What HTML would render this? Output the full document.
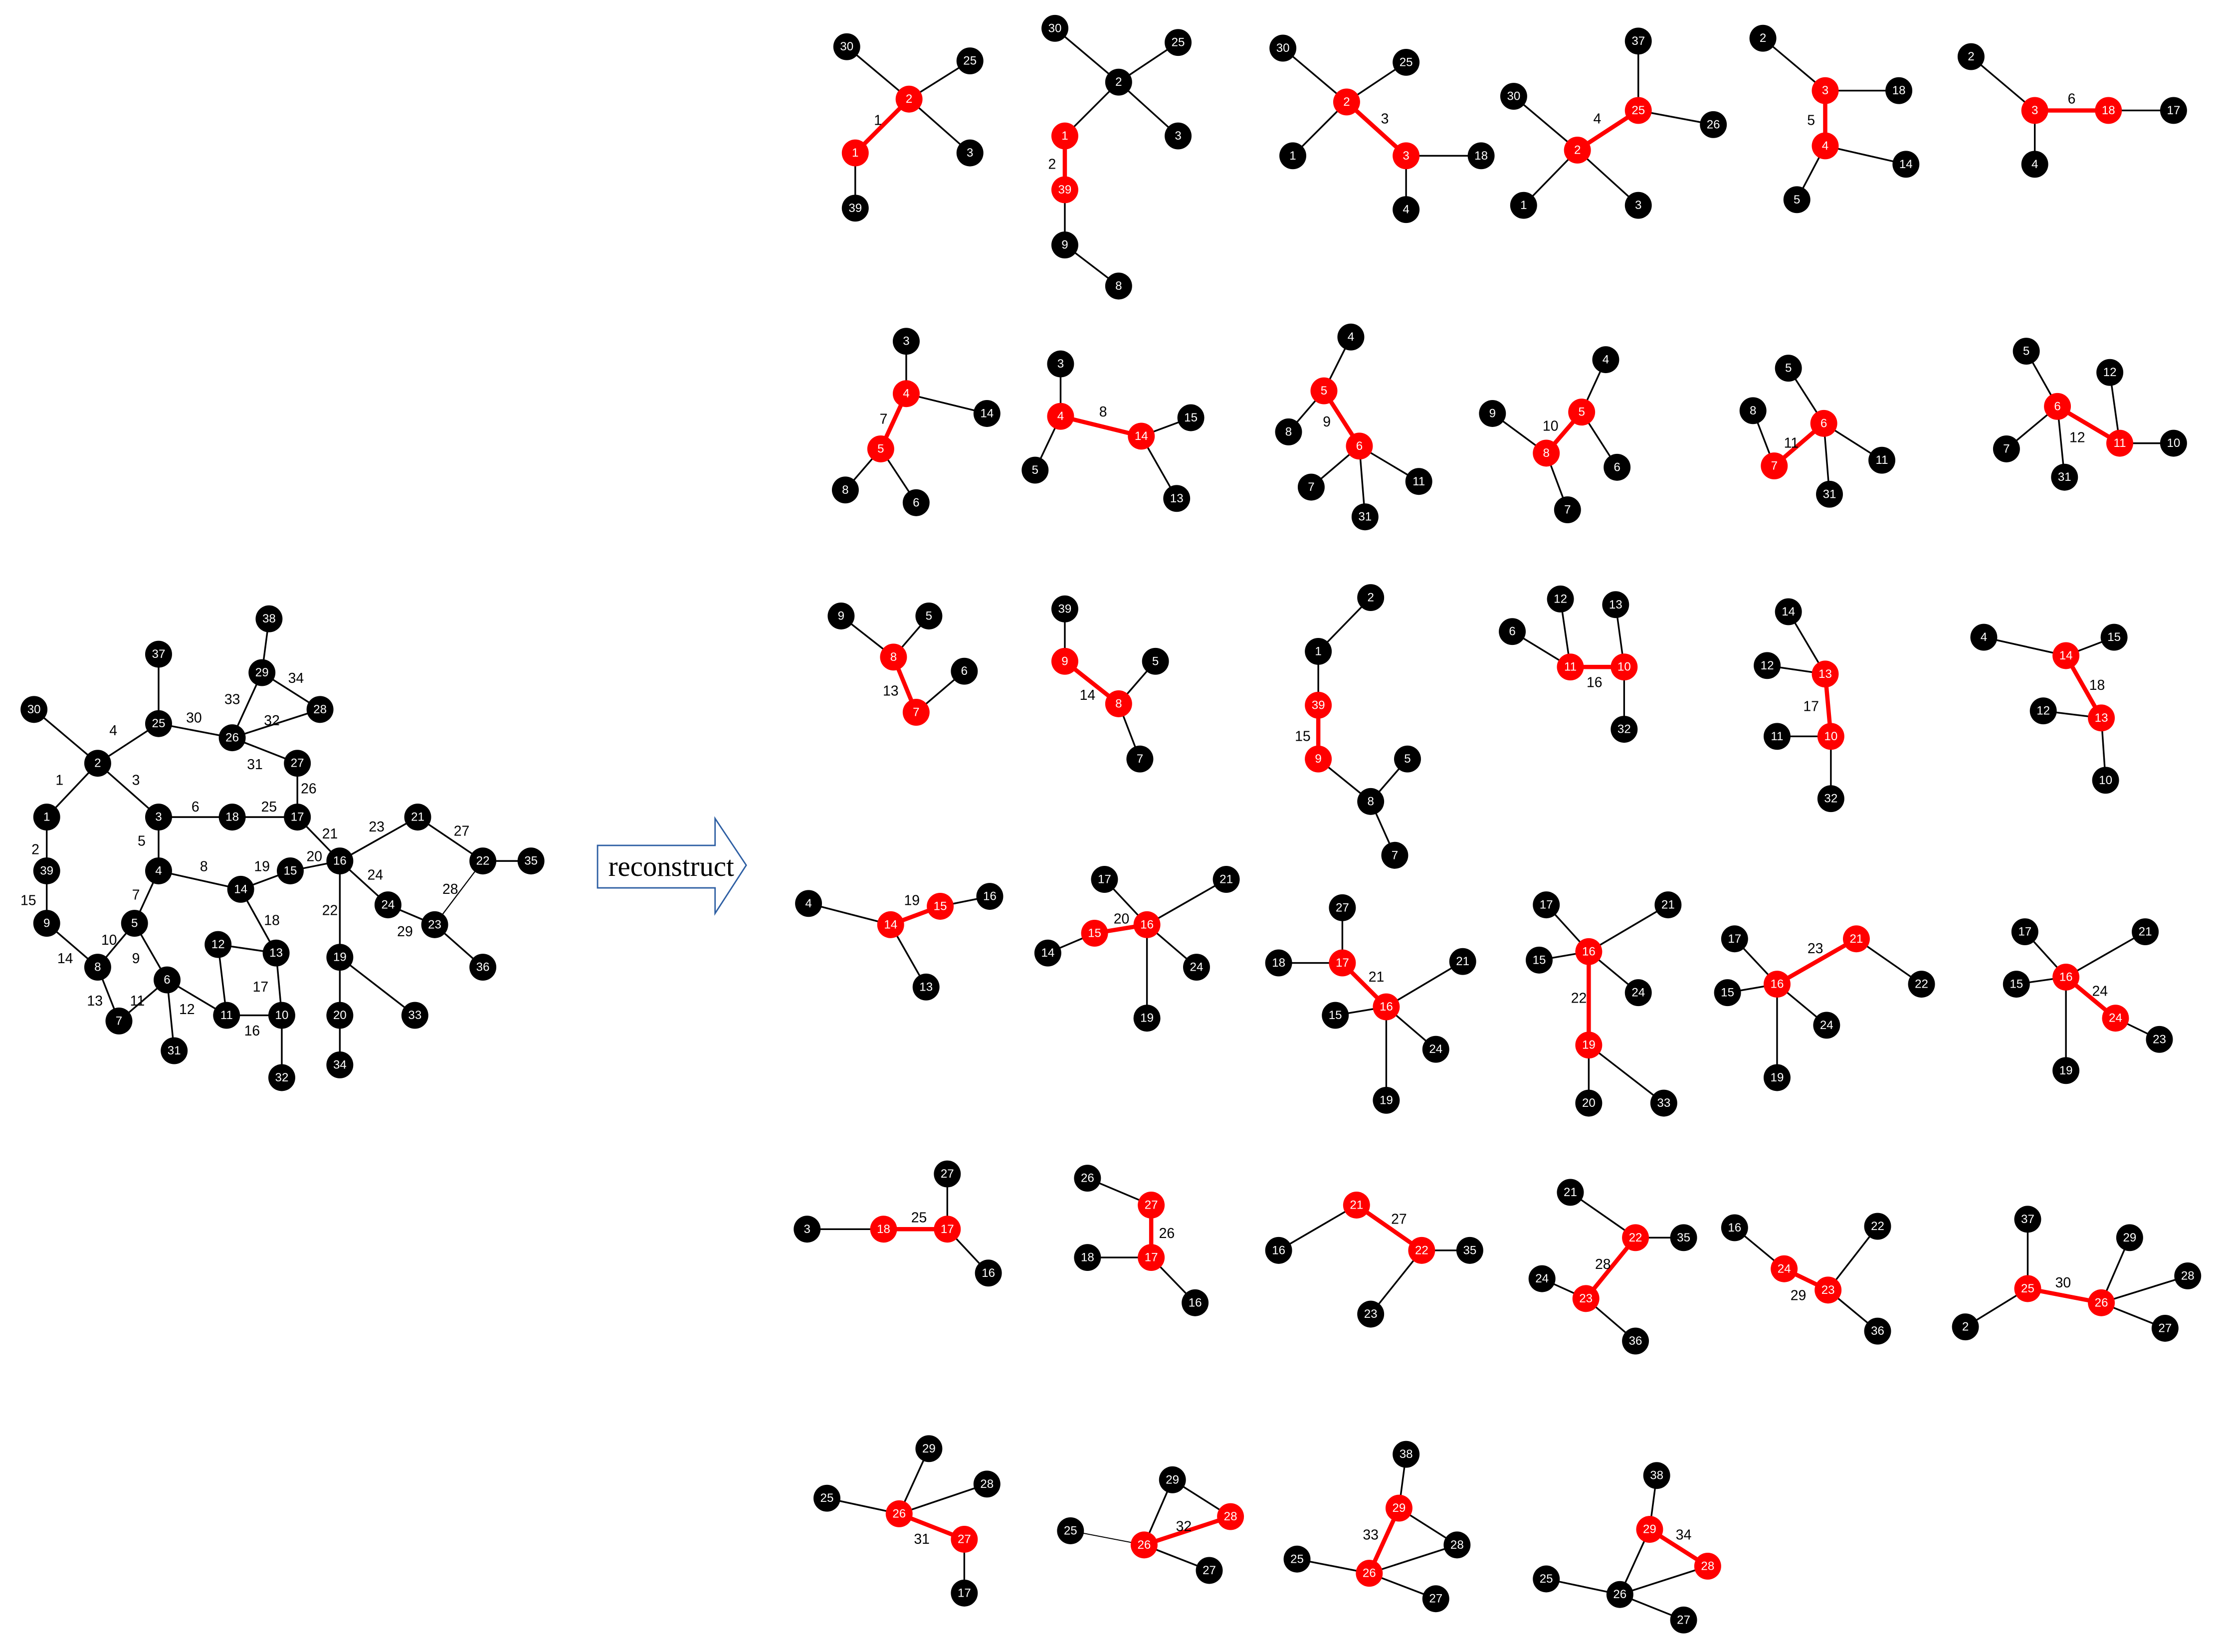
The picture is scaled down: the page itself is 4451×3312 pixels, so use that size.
<!DOCTYPE html>
<html><head><meta charset="utf-8"><style>
html,body{margin:0;padding:0;background:#fff;}
svg{display:block}
circle{r:9.5px;fill:#000}
circle.r{fill:#f00}
line{stroke:#000;stroke-width:1.2}
line.r{stroke:#f00;stroke-width:3}
text{font-family:"Liberation Sans",sans-serif;text-anchor:middle;dominant-baseline:central}
text.n{fill:#fff;font-size:8.5px}
text.e{fill:#000;font-size:10px}
</style></head><body>
<svg width="4451" height="3312" viewBox="0 0 1567.8 1166.6" xmlns="http://www.w3.org/2000/svg">
<!-- LEFT GRAPH -->
<g>
<line x1="24" y1="501" x2="69" y2="539"/><line x1="69" y1="539" x2="112" y2="511"/><line x1="112" y1="462" x2="112" y2="511"/>
<line x1="69" y1="539" x2="33" y2="577"/><line x1="69" y1="539" x2="112" y2="577"/><line x1="33" y1="577" x2="33" y2="652"/>
<line x1="33" y1="652" x2="69" y2="683"/><line x1="112" y1="577" x2="112" y2="615"/><line x1="112" y1="615" x2="95" y2="652"/>
<line x1="95" y1="652" x2="69" y2="683"/><line x1="95" y1="652" x2="118" y2="692"/><line x1="69" y1="683" x2="84" y2="721"/>
<line x1="84" y1="721" x2="118" y2="692"/><line x1="118" y1="692" x2="123" y2="742"/><line x1="118" y1="692" x2="160" y2="717"/>
<line x1="112" y1="577" x2="210" y2="577"/><line x1="210" y1="577" x2="210" y2="539"/><line x1="210" y1="539" x2="164" y2="521"/>
<line x1="112" y1="511" x2="164" y2="521"/><line x1="164" y1="521" x2="185" y2="475"/><line x1="185" y1="475" x2="190" y2="437"/>
<line x1="185" y1="475" x2="226" y2="501"/><line x1="164" y1="521" x2="226" y2="501"/><line x1="112" y1="615" x2="170" y2="628"/>
<line x1="170" y1="628" x2="205" y2="615"/><line x1="205" y1="615" x2="240" y2="608"/><line x1="210" y1="577" x2="240" y2="608"/>
<line x1="240" y1="608" x2="295" y2="577"/><line x1="295" y1="577" x2="341" y2="608"/><line x1="341" y1="608" x2="375" y2="608"/>
<line x1="240" y1="608" x2="274" y2="639"/><line x1="274" y1="639" x2="307" y2="653"/><line x1="341" y1="608" x2="307" y2="653" style="stroke-width:0.8"/>
<line x1="307" y1="653" x2="341" y2="683"/><line x1="240" y1="608" x2="240" y2="752"/><line x1="240" y1="676" x2="293" y2="717"/>
<line x1="170" y1="628" x2="195" y2="673"/><line x1="154" y1="667" x2="195" y2="673"/><line x1="154" y1="667" x2="160" y2="717"/>
<line x1="195" y1="673" x2="199" y2="717"/><line x1="160" y1="717" x2="199" y2="717"/><line x1="199" y1="717" x2="199" y2="761"/>
<circle cx="24" cy="501"/><text class="n" x="24" y="501">30</text>
<circle cx="69" cy="539"/><text class="n" x="69" y="539">2</text>
<circle cx="112" cy="462"/><text class="n" x="112" y="462">37</text>
<circle cx="112" cy="511"/><text class="n" x="112" y="511">25</text>
<circle cx="33" cy="577"/><text class="n" x="33" y="577">1</text>
<circle cx="112" cy="577"/><text class="n" x="112" y="577">3</text>
<circle cx="33" cy="615"/><text class="n" x="33" y="615">39</text>
<circle cx="33" cy="652"/><text class="n" x="33" y="652">9</text>
<circle cx="112" cy="615"/><text class="n" x="112" y="615">4</text>
<circle cx="95" cy="652"/><text class="n" x="95" y="652">5</text>
<circle cx="69" cy="683"/><text class="n" x="69" y="683">8</text>
<circle cx="84" cy="721"/><text class="n" x="84" y="721">7</text>
<circle cx="118" cy="692"/><text class="n" x="118" y="692">6</text>
<circle cx="123" cy="742"/><text class="n" x="123" y="742">31</text>
<circle cx="164" cy="577"/><text class="n" x="164" y="577">18</text>
<circle cx="210" cy="577"/><text class="n" x="210" y="577">17</text>
<circle cx="210" cy="539"/><text class="n" x="210" y="539">27</text>
<circle cx="164" cy="521"/><text class="n" x="164" y="521">26</text>
<circle cx="185" cy="475"/><text class="n" x="185" y="475">29</text>
<circle cx="190" cy="437"/><text class="n" x="190" y="437">38</text>
<circle cx="226" cy="501"/><text class="n" x="226" y="501">28</text>
<circle cx="170" cy="628"/><text class="n" x="170" y="628">14</text>
<circle cx="205" cy="615"/><text class="n" x="205" y="615">15</text>
<circle cx="240" cy="608"/><text class="n" x="240" y="608">16</text>
<circle cx="295" cy="577"/><text class="n" x="295" y="577">21</text>
<circle cx="341" cy="608"/><text class="n" x="341" y="608">22</text>
<circle cx="375" cy="608"/><text class="n" x="375" y="608">35</text>
<circle cx="274" cy="639"/><text class="n" x="274" y="639">24</text>
<circle cx="307" cy="653"/><text class="n" x="307" y="653">23</text>
<circle cx="341" cy="683"/><text class="n" x="341" y="683">36</text>
<circle cx="240" cy="676"/><text class="n" x="240" y="676">19</text>
<circle cx="240" cy="717"/><text class="n" x="240" y="717">20</text>
<circle cx="240" cy="752"/><text class="n" x="240" y="752">34</text>
<circle cx="293" cy="717"/><text class="n" x="293" y="717">33</text>
<circle cx="154" cy="667"/><text class="n" x="154" y="667">12</text>
<circle cx="195" cy="673"/><text class="n" x="195" y="673">13</text>
<circle cx="160" cy="717"/><text class="n" x="160" y="717">11</text>
<circle cx="199" cy="717"/><text class="n" x="199" y="717">10</text>
<circle cx="199" cy="761"/><text class="n" x="199" y="761">32</text>
<text class="e" x="42" y="551">1</text><text class="e" x="25" y="600">2</text><text class="e" x="96" y="551">3</text><text class="e" x="80" y="516">4</text>
<text class="e" x="100" y="594">5</text><text class="e" x="138" y="570">6</text><text class="e" x="96" y="632">7</text><text class="e" x="144" y="612">8</text>
<text class="e" x="96" y="677">9</text><text class="e" x="77" y="664">10</text><text class="e" x="97" y="707">11</text><text class="e" x="132" y="713">12</text>
<text class="e" x="67" y="707">13</text><text class="e" x="46" y="677">14</text><text class="e" x="20" y="636">15</text><text class="e" x="178" y="728">16</text>
<text class="e" x="184" y="697">17</text><text class="e" x="192" y="650">18</text><text class="e" x="185" y="612">19</text><text class="e" x="222" y="605">20</text>
<text class="e" x="233" y="589">21</text><text class="e" x="233" y="643">22</text><text class="e" x="266" y="584">23</text><text class="e" x="265" y="618">24</text>
<text class="e" x="190" y="570">25</text><text class="e" x="218" y="557">26</text><text class="e" x="326" y="587">27</text><text class="e" x="318" y="628">28</text>
<text class="e" x="286" y="658">29</text><text class="e" x="137" y="507">30</text><text class="e" x="180" y="540">31</text><text class="e" x="192" y="509">32</text>
<text class="e" x="164" y="494">33</text><text class="e" x="209" y="479">34</text>
</g>
<!-- ARROW -->
<path d="M422,597 L505,597 L505,578 L527,611 L505,645 L505,627 L422,627 Z" fill="#fff" stroke="#2e5fa3" stroke-width="1"/>
<text x="474" y="612" style="font-family:'Liberation Serif',serif;font-size:20px;fill:#000">reconstruct</text>

<!-- G1 -->
<line x1="598" y1="33" x2="642" y2="70"/><line x1="685" y1="43" x2="642" y2="70"/><line x1="642" y1="70" x2="685" y2="108"/><line x1="604" y1="108" x2="604" y2="147"/><line class="r" x1="642" y1="70" x2="604" y2="108"/>
<circle cx="598" cy="33"/><text class="n" x="598" y="33">30</text><circle cx="685" cy="43"/><text class="n" x="685" y="43">25</text><circle class="r" cx="642" cy="70"/><text class="n" x="642" y="70">2</text><circle class="r" cx="604" cy="108"/><text class="n" x="604" y="108">1</text><circle cx="685" cy="108"/><text class="n" x="685" y="108">3</text><circle cx="604" cy="147"/><text class="n" x="604" y="147">39</text><text class="e" x="620" y="85">1</text>
<!-- G2 -->
<line x1="745" y1="20" x2="790" y2="58"/><line x1="832" y1="30" x2="790" y2="58"/><line x1="790" y1="58" x2="832" y2="96"/><line x1="790" y1="58" x2="752" y2="96"/><line x1="752" y1="134" x2="752" y2="173"/><line x1="752" y1="173" x2="790" y2="202"/><line class="r" x1="752" y1="96" x2="752" y2="134"/>
<circle cx="745" cy="20"/><text class="n" x="745" y="20">30</text><circle cx="832" cy="30"/><text class="n" x="832" y="30">25</text><circle cx="790" cy="58"/><text class="n" x="790" y="58">2</text><circle class="r" cx="752" cy="96"/><text class="n" x="752" y="96">1</text><circle cx="832" cy="96"/><text class="n" x="832" y="96">3</text><circle class="r" cx="752" cy="134"/><text class="n" x="752" y="134">39</text><circle cx="752" cy="173"/><text class="n" x="752" y="173">9</text><circle cx="790" cy="202"/><text class="n" x="790" y="202">8</text><text class="e" x="743" y="116">2</text>
<!-- G3 -->
<line x1="906" y1="34" x2="951" y2="72"/><line x1="993" y1="44" x2="951" y2="72"/><line x1="951" y1="72" x2="913" y2="110"/><line x1="993" y1="110" x2="1046" y2="110"/><line x1="993" y1="110" x2="993" y2="148"/><line class="r" x1="951" y1="72" x2="993" y2="110"/>
<circle cx="906" cy="34"/><text class="n" x="906" y="34">30</text><circle cx="993" cy="44"/><text class="n" x="993" y="44">25</text><circle class="r" cx="951" cy="72"/><text class="n" x="951" y="72">2</text><circle cx="913" cy="110"/><text class="n" x="913" y="110">1</text><circle class="r" cx="993" cy="110"/><text class="n" x="993" y="110">3</text><circle cx="1046" cy="110"/><text class="n" x="1046" y="110">18</text><circle cx="993" cy="148"/><text class="n" x="993" y="148">4</text><text class="e" x="978" y="84">3</text>
<!-- G4 -->
<line x1="1157" y1="29" x2="1157" y2="78"/><line x1="1157" y1="78" x2="1210" y2="88"/><line x1="1069" y1="68" x2="1114" y2="106"/><line x1="1114" y1="106" x2="1076" y2="145"/><line x1="1114" y1="106" x2="1157" y2="145"/><line class="r" x1="1114" y1="106" x2="1157" y2="78"/>
<circle cx="1157" cy="29"/><text class="n" x="1157" y="29">37</text><circle cx="1069" cy="68"/><text class="n" x="1069" y="68">30</text><circle class="r" cx="1157" cy="78"/><text class="n" x="1157" y="78">25</text><circle cx="1210" cy="88"/><text class="n" x="1210" y="88">26</text><circle class="r" cx="1114" cy="106"/><text class="n" x="1114" y="106">2</text><circle cx="1076" cy="145"/><text class="n" x="1076" y="145">1</text><circle cx="1157" cy="145"/><text class="n" x="1157" y="145">3</text><text class="e" x="1128" y="84">4</text>
<!-- G5 -->
<line x1="1245" y1="27" x2="1289" y2="64"/><line x1="1289" y1="64" x2="1341" y2="64"/><line x1="1289" y1="103" x2="1346" y2="116"/><line x1="1289" y1="103" x2="1269" y2="141"/><line class="r" x1="1289" y1="64" x2="1289" y2="103"/>
<circle cx="1245" cy="27"/><text class="n" x="1245" y="27">2</text><circle class="r" cx="1289" cy="64"/><text class="n" x="1289" y="64">3</text><circle cx="1341" cy="64"/><text class="n" x="1341" y="64">18</text><circle class="r" cx="1289" cy="103"/><text class="n" x="1289" y="103">4</text><circle cx="1346" cy="116"/><text class="n" x="1346" y="116">14</text><circle cx="1269" cy="141"/><text class="n" x="1269" y="141">5</text><text class="e" x="1279" y="85">5</text>
<!-- G6 -->
<line x1="1392" y1="40" x2="1437" y2="78"/><line x1="1437" y1="78" x2="1437" y2="116"/><line x1="1489" y1="78" x2="1535" y2="78"/><line class="r" x1="1437" y1="78" x2="1489" y2="78"/>
<circle cx="1392" cy="40"/><text class="n" x="1392" y="40">2</text><circle class="r" cx="1437" cy="78"/><text class="n" x="1437" y="78">3</text><circle class="r" cx="1489" cy="78"/><text class="n" x="1489" y="78">18</text><circle cx="1535" cy="78"/><text class="n" x="1535" y="78">17</text><circle cx="1437" cy="116"/><text class="n" x="1437" y="116">4</text><text class="e" x="1463" y="70">6</text>

<!-- G7 -->
<line x1="640" y1="241" x2="640" y2="278"/><line x1="640" y1="278" x2="697" y2="292"/><line x1="622" y1="317" x2="597" y2="346"/><line x1="622" y1="317" x2="647" y2="355"/><line class="r" x1="640" y1="278" x2="622" y2="317"/>
<circle cx="640" cy="241"/><text class="n" x="640" y="241">3</text><circle class="r" cx="640" cy="278"/><text class="n" x="640" y="278">4</text><circle cx="697" cy="292"/><text class="n" x="697" y="292">14</text><circle class="r" cx="622" cy="317"/><text class="n" x="622" y="317">5</text><circle cx="597" cy="346"/><text class="n" x="597" y="346">8</text><circle cx="647" cy="355"/><text class="n" x="647" y="355">6</text><text class="e" x="624" y="296">7</text>
<!-- G8 -->
<line x1="749" y1="257" x2="749" y2="294"/><line x1="749" y1="294" x2="731" y2="332"/><line x1="806" y1="308" x2="841" y2="295"/><line x1="806" y1="308" x2="831" y2="352"/><line class="r" x1="749" y1="294" x2="806" y2="308"/>
<circle cx="749" cy="257"/><text class="n" x="749" y="257">3</text><circle class="r" cx="749" cy="294"/><text class="n" x="749" y="294">4</text><circle class="r" cx="806" cy="308"/><text class="n" x="806" y="308">14</text><circle cx="841" cy="295"/><text class="n" x="841" y="295">15</text><circle cx="731" cy="332"/><text class="n" x="731" y="332">5</text><circle cx="831" cy="352"/><text class="n" x="831" y="352">13</text><text class="e" x="779" y="291">8</text>
<!-- G9 -->
<line x1="954" y1="238" x2="935" y2="276"/><line x1="935" y1="276" x2="910" y2="305"/><line x1="960" y1="315" x2="926" y2="344"/><line x1="960" y1="315" x2="964" y2="365"/><line x1="960" y1="315" x2="1002" y2="340"/><line class="r" x1="935" y1="276" x2="960" y2="315"/>
<circle cx="954" cy="238"/><text class="n" x="954" y="238">4</text><circle class="r" cx="935" cy="276"/><text class="n" x="935" y="276">5</text><circle cx="910" cy="305"/><text class="n" x="910" y="305">8</text><circle class="r" cx="960" cy="315"/><text class="n" x="960" y="315">6</text><circle cx="926" cy="344"/><text class="n" x="926" y="344">7</text><circle cx="964" cy="365"/><text class="n" x="964" y="365">31</text><circle cx="1002" cy="340"/><text class="n" x="1002" y="340">11</text><text class="e" x="937" y="298">9</text>
<!-- G10 -->
<line x1="1134" y1="254" x2="1117" y2="291"/><line x1="1117" y1="291" x2="1142" y2="330"/><line x1="1054" y1="292" x2="1092" y2="320"/><line x1="1092" y1="320" x2="1107" y2="360"/><line class="r" x1="1117" y1="291" x2="1092" y2="320"/>
<circle cx="1134" cy="254"/><text class="n" x="1134" y="254">4</text><circle cx="1054" cy="292"/><text class="n" x="1054" y="292">9</text><circle class="r" cx="1117" cy="291"/><text class="n" x="1117" y="291">5</text><circle class="r" cx="1092" cy="320"/><text class="n" x="1092" y="320">8</text><circle cx="1142" cy="330"/><text class="n" x="1142" y="330">6</text><circle cx="1107" cy="360"/><text class="n" x="1107" y="360">7</text><text class="e" x="1095" y="301">10</text>
<!-- G11 -->
<line x1="1263" y1="260" x2="1288" y2="299"/><line x1="1238" y1="290" x2="1253" y2="329"/><line x1="1288" y1="299" x2="1329" y2="325"/><line x1="1288" y1="299" x2="1292" y2="349"/><line class="r" x1="1288" y1="299" x2="1253" y2="329"/>
<circle cx="1263" cy="260"/><text class="n" x="1263" y="260">5</text><circle cx="1238" cy="290"/><text class="n" x="1238" y="290">8</text><circle class="r" cx="1288" cy="299"/><text class="n" x="1288" y="299">6</text><circle class="r" cx="1253" cy="329"/><text class="n" x="1253" y="329">7</text><circle cx="1329" cy="325"/><text class="n" x="1329" y="325">11</text><circle cx="1292" cy="349"/><text class="n" x="1292" y="349">31</text><text class="e" x="1265" y="313">11</text>
<!-- G12 -->
<line x1="1431" y1="248" x2="1453" y2="287"/><line x1="1453" y1="287" x2="1417" y2="317"/><line x1="1453" y1="287" x2="1458" y2="337"/><line x1="1490" y1="263" x2="1497" y2="313"/><line x1="1497" y1="313" x2="1535" y2="313"/><line class="r" x1="1453" y1="287" x2="1497" y2="313"/>
<circle cx="1431" cy="248"/><text class="n" x="1431" y="248">5</text><circle class="r" cx="1453" cy="287"/><text class="n" x="1453" y="287">6</text><circle cx="1490" cy="263"/><text class="n" x="1490" y="263">12</text><circle class="r" cx="1497" cy="313"/><text class="n" x="1497" y="313">11</text><circle cx="1535" cy="313"/><text class="n" x="1535" y="313">10</text><circle cx="1417" cy="317"/><text class="n" x="1417" y="317">7</text><circle cx="1458" cy="337"/><text class="n" x="1458" y="337">31</text><text class="e" x="1467" y="309">12</text>

<!-- G13 -->
<line x1="594" y1="435" x2="631" y2="464"/><line x1="656" y1="435" x2="631" y2="464"/><line x1="647" y1="503" x2="681" y2="474"/><line class="r" x1="631" y1="464" x2="647" y2="503"/>
<circle cx="594" cy="435"/><text class="n" x="594" y="435">9</text><circle cx="656" cy="435"/><text class="n" x="656" y="435">5</text><circle class="r" cx="631" cy="464"/><text class="n" x="631" y="464">8</text><circle class="r" cx="647" cy="503"/><text class="n" x="647" y="503">7</text><circle cx="681" cy="474"/><text class="n" x="681" y="474">6</text><text class="e" x="629" y="488">13</text>
<!-- G14 -->
<line x1="752" y1="430" x2="752" y2="467"/><line x1="816" y1="467" x2="790" y2="497"/><line x1="790" y1="497" x2="805" y2="536"/><line class="r" x1="752" y1="467" x2="790" y2="497"/>
<circle cx="752" cy="430"/><text class="n" x="752" y="430">39</text><circle class="r" cx="752" cy="467"/><text class="n" x="752" y="467">9</text><circle cx="816" cy="467"/><text class="n" x="816" y="467">5</text><circle class="r" cx="790" cy="497"/><text class="n" x="790" y="497">8</text><circle cx="805" cy="536"/><text class="n" x="805" y="536">7</text><text class="e" x="768" y="491">14</text>
<!-- G15 -->
<line x1="968" y1="422" x2="931" y2="460"/><line x1="931" y1="460" x2="931" y2="498"/><line x1="931" y1="536" x2="968" y2="566"/><line x1="994" y1="536" x2="968" y2="566"/><line x1="968" y1="566" x2="985" y2="604"/><line class="r" x1="931" y1="498" x2="931" y2="536"/>
<circle cx="968" cy="422"/><text class="n" x="968" y="422">2</text><circle cx="931" cy="460"/><text class="n" x="931" y="460">1</text><circle class="r" cx="931" cy="498"/><text class="n" x="931" y="498">39</text><circle class="r" cx="931" cy="536"/><text class="n" x="931" y="536">9</text><circle cx="994" cy="536"/><text class="n" x="994" y="536">5</text><circle cx="968" cy="566"/><text class="n" x="968" y="566">8</text><circle cx="985" cy="604"/><text class="n" x="985" y="604">7</text><text class="e" x="920" y="520">15</text>
<!-- G16 -->
<line x1="1068" y1="446" x2="1109" y2="471"/><line x1="1102" y1="423" x2="1109" y2="471"/><line x1="1141" y1="427" x2="1147" y2="471"/><line x1="1147" y1="471" x2="1147" y2="515"/><line class="r" x1="1109" y1="471" x2="1147" y2="471"/>
<circle cx="1068" cy="446"/><text class="n" x="1068" y="446">6</text><circle cx="1102" cy="423"/><text class="n" x="1102" y="423">12</text><circle cx="1141" cy="427"/><text class="n" x="1141" y="427">13</text><circle class="r" cx="1109" cy="471"/><text class="n" x="1109" y="471">11</text><circle class="r" cx="1147" cy="471"/><text class="n" x="1147" y="471">10</text><circle cx="1147" cy="515"/><text class="n" x="1147" y="515">32</text><text class="e" x="1126" y="482">16</text>
<!-- G17 -->
<line x1="1263" y1="432" x2="1289" y2="476"/><line x1="1248" y1="470" x2="1289" y2="476"/><line x1="1255" y1="520" x2="1293" y2="520"/><line x1="1293" y1="520" x2="1293" y2="564"/><line class="r" x1="1289" y1="476" x2="1293" y2="520"/>
<circle cx="1263" cy="432"/><text class="n" x="1263" y="432">14</text><circle cx="1248" cy="470"/><text class="n" x="1248" y="470">12</text><circle class="r" cx="1289" cy="476"/><text class="n" x="1289" y="476">13</text><circle cx="1255" cy="520"/><text class="n" x="1255" y="520">11</text><circle class="r" cx="1293" cy="520"/><text class="n" x="1293" y="520">10</text><circle cx="1293" cy="564"/><text class="n" x="1293" y="564">32</text><text class="e" x="1279" y="499">17</text>
<!-- G18 -->
<line x1="1401" y1="450" x2="1459" y2="463"/><line x1="1459" y1="463" x2="1493" y2="450"/><line x1="1443" y1="502" x2="1484" y2="507"/><line x1="1484" y1="507" x2="1487" y2="551"/><line class="r" x1="1459" y1="463" x2="1484" y2="507"/>
<circle cx="1401" cy="450"/><text class="n" x="1401" y="450">4</text><circle class="r" cx="1459" cy="463"/><text class="n" x="1459" y="463">14</text><circle cx="1493" cy="450"/><text class="n" x="1493" y="450">15</text><circle cx="1443" cy="502"/><text class="n" x="1443" y="502">12</text><circle class="r" cx="1484" cy="507"/><text class="n" x="1484" y="507">13</text><circle cx="1487" cy="551"/><text class="n" x="1487" y="551">10</text><text class="e" x="1481" y="484">18</text>

<!-- G19 -->
<line x1="571" y1="638" x2="629" y2="653"/><line x1="629" y1="653" x2="654" y2="697"/><line x1="664" y1="640" x2="699" y2="633"/><line class="r" x1="629" y1="653" x2="664" y2="640"/>
<circle cx="571" cy="638"/><text class="n" x="571" y="638">4</text><circle class="r" cx="629" cy="653"/><text class="n" x="629" y="653">14</text><circle class="r" cx="664" cy="640"/><text class="n" x="664" y="640">15</text><circle cx="699" cy="633"/><text class="n" x="699" y="633">16</text><circle cx="654" cy="697"/><text class="n" x="654" y="697">13</text><text class="e" x="644" y="636">19</text>
<!-- G20 -->
<line x1="780" y1="621" x2="810" y2="653"/><line x1="866" y1="621" x2="810" y2="653"/><line x1="810" y1="653" x2="845" y2="683"/><line x1="810" y1="653" x2="810" y2="719"/><line x1="773" y1="659" x2="740" y2="673"/><line class="r" x1="773" y1="659" x2="810" y2="653"/>
<circle cx="780" cy="621"/><text class="n" x="780" y="621">17</text><circle cx="866" cy="621"/><text class="n" x="866" y="621">21</text><circle class="r" cx="810" cy="653"/><text class="n" x="810" y="653">16</text><circle class="r" cx="773" cy="659"/><text class="n" x="773" y="659">15</text><circle cx="740" cy="673"/><text class="n" x="740" y="673">14</text><circle cx="845" cy="683"/><text class="n" x="845" y="683">24</text><circle cx="810" cy="719"/><text class="n" x="810" y="719">19</text><text class="e" x="792" y="649">20</text>
<!-- G21 -->
<line x1="948" y1="641" x2="948" y2="680"/><line x1="903" y1="680" x2="948" y2="680"/><line x1="1033" y1="679" x2="979" y2="711"/><line x1="943" y1="717" x2="979" y2="711"/><line x1="979" y1="711" x2="1014" y2="741"/><line x1="979" y1="711" x2="979" y2="777"/><line class="r" x1="948" y1="680" x2="979" y2="711"/>
<circle cx="948" cy="641"/><text class="n" x="948" y="641">27</text><circle cx="903" cy="680"/><text class="n" x="903" y="680">18</text><circle class="r" cx="948" cy="680"/><text class="n" x="948" y="680">17</text><circle cx="1033" cy="679"/><text class="n" x="1033" y="679">21</text><circle class="r" cx="979" cy="711"/><text class="n" x="979" y="711">16</text><circle cx="943" cy="717"/><text class="n" x="943" y="717">15</text><circle cx="1014" cy="741"/><text class="n" x="1014" y="741">24</text><circle cx="979" cy="777"/><text class="n" x="979" y="777">19</text><text class="e" x="972" y="690">21</text>
<!-- G22 -->
<line x1="1092" y1="639" x2="1122" y2="672"/><line x1="1178" y1="639" x2="1122" y2="672"/><line x1="1087" y1="678" x2="1122" y2="672"/><line x1="1122" y1="672" x2="1157" y2="701"/><line x1="1122" y1="738" x2="1122" y2="779"/><line x1="1122" y1="738" x2="1175" y2="779"/><line class="r" x1="1122" y1="672" x2="1122" y2="738"/>
<circle cx="1092" cy="639"/><text class="n" x="1092" y="639">17</text><circle cx="1178" cy="639"/><text class="n" x="1178" y="639">21</text><circle class="r" cx="1122" cy="672"/><text class="n" x="1122" y="672">16</text><circle cx="1087" cy="678"/><text class="n" x="1087" y="678">15</text><circle cx="1157" cy="701"/><text class="n" x="1157" y="701">24</text><circle class="r" cx="1122" cy="738"/><text class="n" x="1122" y="738">19</text><circle cx="1122" cy="779"/><text class="n" x="1122" y="779">20</text><circle cx="1175" cy="779"/><text class="n" x="1175" y="779">33</text><text class="e" x="1115" y="705">22</text>
<!-- G23 -->
<line x1="1225" y1="663" x2="1255" y2="695"/><line x1="1220" y1="701" x2="1255" y2="695"/><line x1="1255" y1="695" x2="1290" y2="724"/><line x1="1255" y1="695" x2="1255" y2="761"/><line x1="1311" y1="663" x2="1357" y2="695"/><line class="r" x1="1255" y1="695" x2="1311" y2="663"/>
<circle cx="1225" cy="663"/><text class="n" x="1225" y="663">17</text><circle class="r" cx="1311" cy="663"/><text class="n" x="1311" y="663">21</text><circle class="r" cx="1255" cy="695"/><text class="n" x="1255" y="695">16</text><circle cx="1220" cy="701"/><text class="n" x="1220" y="701">15</text><circle cx="1290" cy="724"/><text class="n" x="1290" y="724">24</text><circle cx="1357" cy="695"/><text class="n" x="1357" y="695">22</text><circle cx="1255" cy="761"/><text class="n" x="1255" y="761">19</text><text class="e" x="1282" y="670">23</text>
<!-- G24 -->
<line x1="1430" y1="658" x2="1459" y2="690"/><line x1="1515" y1="658" x2="1459" y2="690"/><line x1="1424" y1="695" x2="1459" y2="690"/><line x1="1459" y1="690" x2="1459" y2="756"/><line x1="1494" y1="719" x2="1525" y2="734"/><line class="r" x1="1459" y1="690" x2="1494" y2="719"/>
<circle cx="1430" cy="658"/><text class="n" x="1430" y="658">17</text><circle cx="1515" cy="658"/><text class="n" x="1515" y="658">21</text><circle class="r" cx="1459" cy="690"/><text class="n" x="1459" y="690">16</text><circle cx="1424" cy="695"/><text class="n" x="1424" y="695">15</text><circle class="r" cx="1494" cy="719"/><text class="n" x="1494" y="719">24</text><circle cx="1525" cy="734"/><text class="n" x="1525" y="734">23</text><circle cx="1459" cy="756"/><text class="n" x="1459" y="756">19</text><text class="e" x="1483" y="700">24</text>

<!-- G25 -->
<line x1="669" y1="829" x2="669" y2="868"/><line x1="570" y1="868" x2="624" y2="868"/><line x1="669" y1="868" x2="698" y2="899"/><line class="r" x1="624" y1="868" x2="669" y2="868"/>
<circle cx="669" cy="829"/><text class="n" x="669" y="829">27</text><circle cx="570" cy="868"/><text class="n" x="570" y="868">3</text><circle class="r" cx="624" cy="868"/><text class="n" x="624" y="868">18</text><circle class="r" cx="669" cy="868"/><text class="n" x="669" y="868">17</text><circle cx="698" cy="899"/><text class="n" x="698" y="899">16</text><text class="e" x="649" y="860">25</text>
<!-- G26 -->
<line x1="768" y1="832" x2="813" y2="851"/><line x1="768" y1="888" x2="813" y2="888"/><line x1="813" y1="888" x2="844" y2="920"/><line class="r" x1="813" y1="851" x2="813" y2="888"/>
<circle cx="768" cy="832"/><text class="n" x="768" y="832">26</text><circle class="r" cx="813" cy="851"/><text class="n" x="813" y="851">27</text><circle cx="768" cy="888"/><text class="n" x="768" y="888">18</text><circle class="r" cx="813" cy="888"/><text class="n" x="813" y="888">17</text><circle cx="844" cy="920"/><text class="n" x="844" y="920">16</text><text class="e" x="824" y="871">26</text>
<!-- G27 -->
<line x1="903" y1="883" x2="958" y2="851"/><line x1="1004" y1="883" x2="1038" y2="883"/><line x1="1004" y1="883" x2="968" y2="928"/><line class="r" x1="958" y1="851" x2="1004" y2="883"/>
<circle class="r" cx="958" cy="851"/><text class="n" x="958" y="851">21</text><circle cx="903" cy="883"/><text class="n" x="903" y="883">16</text><circle class="r" cx="1004" cy="883"/><text class="n" x="1004" y="883">22</text><circle cx="1038" cy="883"/><text class="n" x="1038" y="883">35</text><circle cx="968" cy="928"/><text class="n" x="968" y="928">23</text><text class="e" x="988" y="861">27</text>
<!-- G28 -->
<line x1="1109" y1="842" x2="1155" y2="874"/><line x1="1155" y1="874" x2="1189" y2="874"/><line x1="1089" y1="903" x2="1120" y2="917"/><line x1="1120" y1="917" x2="1155" y2="947"/><line class="r" x1="1155" y1="874" x2="1120" y2="917"/>
<circle cx="1109" cy="842"/><text class="n" x="1109" y="842">21</text><circle class="r" cx="1155" cy="874"/><text class="n" x="1155" y="874">22</text><circle cx="1189" cy="874"/><text class="n" x="1189" y="874">35</text><circle cx="1089" cy="903"/><text class="n" x="1089" y="903">24</text><circle class="r" cx="1120" cy="917"/><text class="n" x="1120" y="917">23</text><circle cx="1155" cy="947"/><text class="n" x="1155" y="947">36</text><text class="e" x="1132" y="893">28</text>
<!-- G29 -->
<line x1="1225" y1="867" x2="1260" y2="896"/><line x1="1326" y1="866" x2="1291" y2="911"/><line x1="1291" y1="911" x2="1326" y2="940"/><line class="r" x1="1260" y1="896" x2="1291" y2="911"/>
<circle cx="1225" cy="867"/><text class="n" x="1225" y="867">16</text><circle cx="1326" cy="866"/><text class="n" x="1326" y="866">22</text><circle class="r" cx="1260" cy="896"/><text class="n" x="1260" y="896">24</text><circle class="r" cx="1291" cy="911"/><text class="n" x="1291" y="911">23</text><circle cx="1326" cy="940"/><text class="n" x="1326" y="940">36</text><text class="e" x="1270" y="915">29</text>
<!-- G30 -->
<line x1="1432" y1="861" x2="1432" y2="910"/><line x1="1388" y1="937" x2="1432" y2="910"/><line x1="1484" y1="920" x2="1504" y2="874"/><line x1="1484" y1="920" x2="1545" y2="901"/><line x1="1484" y1="920" x2="1529" y2="938"/><line class="r" x1="1432" y1="910" x2="1484" y2="920"/>
<circle cx="1432" cy="861"/><text class="n" x="1432" y="861">37</text><circle cx="1504" cy="874"/><text class="n" x="1504" y="874">29</text><circle cx="1545" cy="901"/><text class="n" x="1545" y="901">28</text><circle class="r" cx="1432" cy="910"/><text class="n" x="1432" y="910">25</text><circle class="r" cx="1484" cy="920"/><text class="n" x="1484" y="920">26</text><circle cx="1388" cy="937"/><text class="n" x="1388" y="937">2</text><circle cx="1529" cy="938"/><text class="n" x="1529" y="938">27</text><text class="e" x="1457" y="906">30</text>

<!-- G31 -->
<line x1="635" y1="1069" x2="656" y2="1023"/><line x1="635" y1="1069" x2="697" y2="1048"/><line x1="584" y1="1058" x2="635" y2="1069"/><line x1="681" y1="1087" x2="681" y2="1125"/><line class="r" x1="635" y1="1069" x2="681" y2="1087"/>
<circle cx="656" cy="1023"/><text class="n" x="656" y="1023">29</text><circle cx="697" cy="1048"/><text class="n" x="697" y="1048">28</text><circle cx="584" cy="1058"/><text class="n" x="584" y="1058">25</text><circle class="r" cx="635" cy="1069"/><text class="n" x="635" y="1069">26</text><circle class="r" cx="681" cy="1087"/><text class="n" x="681" y="1087">27</text><circle cx="681" cy="1125"/><text class="n" x="681" y="1125">17</text><text class="e" x="651" y="1087">31</text>
<!-- G32 -->
<line x1="828" y1="1045" x2="808" y2="1091"/><line x1="828" y1="1045" x2="869" y2="1071"/><line x1="756" y1="1081" x2="808" y2="1091" style="stroke-width:0.7"/><line x1="808" y1="1091" x2="854" y2="1109"/><line class="r" x1="808" y1="1091" x2="869" y2="1071"/>
<circle cx="828" cy="1045"/><text class="n" x="828" y="1045">29</text><circle class="r" cx="869" cy="1071"/><text class="n" x="869" y="1071">28</text><circle cx="756" cy="1081"/><text class="n" x="756" y="1081">25</text><circle class="r" cx="808" cy="1091"/><text class="n" x="808" y="1091">26</text><circle cx="854" cy="1109"/><text class="n" x="854" y="1109">27</text><text class="e" x="836" y="1078">32</text>
<!-- G33 -->
<line x1="993" y1="1027" x2="988" y2="1065"/><line x1="988" y1="1065" x2="1029" y2="1091"/><line x1="916" y1="1101" x2="967" y2="1111"/><line x1="967" y1="1111" x2="1029" y2="1091"/><line x1="967" y1="1111" x2="1014" y2="1129"/><line class="r" x1="988" y1="1065" x2="967" y2="1111"/>
<circle cx="993" cy="1027"/><text class="n" x="993" y="1027">38</text><circle class="r" cx="988" cy="1065"/><text class="n" x="988" y="1065">29</text><circle cx="1029" cy="1091"/><text class="n" x="1029" y="1091">28</text><circle cx="916" cy="1101"/><text class="n" x="916" y="1101">25</text><circle class="r" cx="967" cy="1111"/><text class="n" x="967" y="1111">26</text><circle cx="1014" cy="1129"/><text class="n" x="1014" y="1129">27</text><text class="e" x="968" y="1084">33</text>
<!-- G34 -->
<line x1="1170" y1="1042" x2="1165" y2="1080"/><line x1="1165" y1="1080" x2="1144" y2="1126"/><line x1="1092" y1="1115" x2="1144" y2="1126"/><line x1="1144" y1="1126" x2="1206" y2="1106"/><line x1="1144" y1="1126" x2="1189" y2="1144"/><line class="r" x1="1165" y1="1080" x2="1206" y2="1106"/>
<circle cx="1170" cy="1042"/><text class="n" x="1170" y="1042">38</text><circle class="r" cx="1165" cy="1080"/><text class="n" x="1165" y="1080">29</text><circle class="r" cx="1206" cy="1106"/><text class="n" x="1206" y="1106">28</text><circle cx="1092" cy="1115"/><text class="n" x="1092" y="1115">25</text><circle cx="1144" cy="1126"/><text class="n" x="1144" y="1126">26</text><circle cx="1189" cy="1144"/><text class="n" x="1189" y="1144">27</text><text class="e" x="1189" y="1084">34</text>
</svg>
</body></html>
